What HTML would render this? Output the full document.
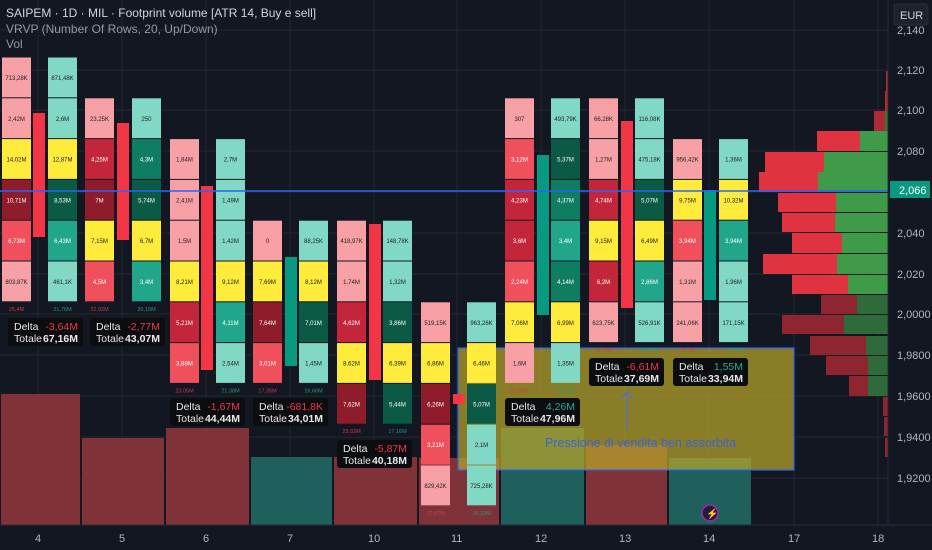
<!DOCTYPE html>
<html><head><meta charset="utf-8"><style>
body{margin:0;background:#131722;overflow:hidden}
svg{display:block;font-family:"Liberation Sans",sans-serif}
</style></head><body>
<svg id="s" width="932" height="550" viewBox="0 0 932 550" xmlns="http://www.w3.org/2000/svg">
<rect width="932" height="550" fill="#131722"/>
<g id="grid" stroke="#232733" stroke-width="1"></g>
<g id="vol"></g>
<g id="vp"></g>
<rect x="458" y="348" width="336" height="122" fill="#b8a52a" fill-opacity="0.72" stroke="#2962ff" stroke-width="1.2"/>
<g id="fp"></g>
<line x1="0" y1="191" x2="890" y2="191" stroke="#2962ff" stroke-width="1.5"/>
<line x1="627" y1="393" x2="627" y2="430" stroke="#4a6fd8" stroke-width="1.2"/>
<path d="M621,399 L627,392 L633,399" fill="none" stroke="#4a6fd8" stroke-width="1.2"/>
<text x="545" y="447" font-size="12.5" fill="#3d63d6">Pressione di vendita ben assorbita</text>
<circle cx="710" cy="513" r="8" fill="#2a1a3a" stroke="#9c27b0" stroke-width="1.5"/>
<text x="706" y="517" font-size="10" fill="#ce93d8">⚡</text>
<g id="db"></g>
<rect x="888" y="0" width="44" height="550" fill="#131722"/>
<line x1="888" y1="0" x2="888" y2="525" stroke="#2a2e39"/>
<line x1="0" y1="525" x2="932" y2="525" stroke="#2a2e39"/>
<g id="ax" font-size="11" fill="#b2b5be"></g>
<rect x="894" y="4" width="34" height="21" rx="3" fill="#1e222d" stroke="#2a2e39"/>
<text x="900" y="19" font-size="11" fill="#d1d4dc">EUR</text>
<rect x="890" y="181" width="40" height="17" fill="#089981"/>
<text x="899" y="194" font-size="11" fill="#fff">2,066</text>
<text x="6" y="17" font-size="12" fill="#d1d4dc">SAIPEM · 1D · MIL · Footprint volume [ATR 14, Buy e sell]</text>
<text x="6" y="33" font-size="12" fill="#9598a1">VRVP (Number Of Rows, 20, Up/Down)</text>
<text x="6" y="48" font-size="12" fill="#9598a1">Vol</text>
</svg>
<script>
const NS="http://www.w3.org/2000/svg";
function el(p,t,a,txt){const e=document.createElementNS(NS,t);for(const k in a)e.setAttribute(k,a[k]);if(txt!=null)e.textContent=txt;document.getElementById(p).appendChild(e);return e;}
// grid
const xs=[38,122,206,290,374,457,541,625,709,794,878];
xs.forEach(x=>el("grid","line",{x1:x,y1:0,x2:x,y2:525}));
const ys=[[30,"2,140"],[70,"2,120"],[110,"2,100"],[151,"2,080"],[192,"2,060"],[233,"2,040"],[274,"2,020"],[314,"2,0000"],[355,"1,9800"],[396,"1,9600"],[437,"1,9400"],[478,"1,9200"]];
ys.forEach(([y,t])=>{el("grid","line",{x1:0,y1:y,x2:888,y2:y});if(y>=60||true)el("ax","text",{x:897,y:y+4},t);});
["4","5","6","7","10","11","12","13","14","17","18"].forEach((t,i)=>el("ax","text",{x:xs[i]-(t.length>1?6:3),y:542},t));
// volume
[[0,81,394,"#7f3238"],[81,165,438,"#7f3238"],[165,250,428,"#7f3238"],[250,333,457,"#1f5f5c"],[333,418,457,"#7f3238"],[418,500,458,"#7f3238"],[500,585,428,"#1f5f5c"],[585,668,445,"#7f3238"],[668,752,458,"#1f5f5c"]].forEach(([a,b,y,c])=>el("vol","rect",{x:a+1,y:y,width:b-a-2,height:525-y,fill:c}));
// VRVP
[[131,20,817,860,"#e03340","#3f9a4a"],[152,20,765,824,"#e03340","#3f9a4a"],[172,20,759,818,"#e03340","#3f9a4a"],[193,19,778,836,"#e03340","#3f9a4a"],[213,19,782,835,"#e03340","#3f9a4a"],[233,20,792,842,"#e03340","#3f9a4a"],[254,20,763,837,"#e03340","#3f9a4a"],[275,19,792,848,"#e03340","#3f9a4a"],[295,19,821,857,"#8e2530","#2f6b3a"],[315,19,782,844,"#8e2530","#2f6b3a"],[336,19,810,866,"#8e2530","#2f6b3a"],[356,19,826,868,"#8e2530","#2f6b3a"],[376,20,849,868,"#8e2530","#2f6b3a"],[111,20,874,885,"#b02a35","#2f7a3a"],[91,20,885,888,"#b02a35","#2f7a3a"],[71,20,886,888,"#b02a35","#2f7a3a"],[397,19,883,888,"#8e2530","#2f6b3a"],[417,19,884,888,"#8e2530","#2f6b3a"],[438,19,885,888,"#8e2530","#2f6b3a"]].forEach(([y,h,a,b,c1,c2])=>{el("vp","rect",{x:a,y:y,width:b-a,height:h,fill:c1});el("vp","rect",{x:b,y:y,width:890-b,height:h,fill:c2});});
// footprint
const C={p:"#f7a1a6",t:"#80d8c5",y:"#ffeb3b",D:"#8e1c2b",R:"#f0505c",M:"#c3263a",G:"#0a5a46",T:"#22a68b",g:"#0e7d62"};
const dk={p:"#3a1010",t:"#0a3a30",y:"#333"};
const days=[
 [2,48,33,"#f23645",113,237,0,["p713,28K","p2,42M","y14,02M","D10,71M","R6,73M","p803,87K"],["t871,48K","t2,6M","y12,87M","G8,53M","T6,43M","t461,1K"],"25,4M","21,76M"],
 [85,132,117,"#f23645",123,240,1,["p23,25K","M4,25M","D7M","y7,15M","R4,5M"],["t250","g4,3M","G5,74M","y6,7M","T3,4M"],"22,92M","20,15M"],
 [170,216,201,"#f23645",186,370,2,["p1,84M","p2,41M","p1,5M","y8,21M","M5,21M","R3,88M"],["t2,7M","t1,49M","t1,42M","y9,12M","T4,11M","t2,54M"],"23,05M","21,38M"],
 [253,299,285,"#089981",257,366,4,["p0","y7,69M","D7,64M","R3,01M"],["t88,25K","y8,12M","G7,01M","t1,45M"],"17,35M","16,66M"],
 [337,383,369,"#f23645",224,380,4,["p418,97K","p1,74M","M4,62M","y8,62M","D7,62M"],["t148,78K","t1,32M","G3,86M","y6,39M","G5,44M"],"23,02M","17,16M"],
 [421,467,453,"#f23645",394,404,6,["p519,15K","y6,86M","D6,26M","R3,21M","p829,42K"],["t963,26K","y6,46M","G5,07M","t2,1M","t725,28K"],"17,87M","16,32M"],
 [505,551,537,"#089981",155,315,1,["p307","R3,12M","M4,23M","M3,6M","R2,24M","y7,06M","p1,6M"],["t493,79K","G5,37M","g4,37M","T3,4M","g4,14M","y6,99M","t1,35M"],"21,85M","26,11M"],
 [589,635,621,"#f23645",121,308,1,["p66,28K","p1,27M","M4,74M","y9,15M","M6,2M","p623,75K"],["t116,08K","t475,18K","G5,07M","y6,49M","T2,86M","t526,91K"],"22,15M","15,54M"],
 [673,719,704,"#089981",190,300,2,["p956,42K","y9,75M","R3,94M","p1,31M","p241,06K"],["t1,36M","y10,32M","T3,94M","t1,96M","t171,15K"],"16,2M","17,73M"]
];
const rowY=i=>57+i*40.8;
days.forEach(d=>{
 const [sx,bx,cx,cc,c1,c2,r0,S,B,ls,lb]=d;
 el("fp","rect",{x:cx,y:c1,width:12,height:c2-c1,fill:cc});
 [[sx,S,ls,"#d0394a"],[bx,B,lb,"#1f9c84"]].forEach(([x,arr,lab,lc])=>{
  arr.forEach((v,i)=>{const k=v[0],t=v.slice(1),y=rowY(r0+i);
   el("fp","rect",{x:x,y:y+0.5,width:29,height:39.8,fill:C[k]});
   el("fp","text",{x:x+14.5,y:y+23,"font-size":"6","text-anchor":"middle",fill:(k=="p"||k=="t"||k=="y")?"#222":"#fff"},t);});
  el("fp","text",{x:x+14.5,y:rowY(r0+arr.length)+9,"font-size":"5.5","text-anchor":"middle",fill:lc},lab);
 });
});
// delta boxes
[[8,318,"-3,64M","67,16M",0],[90,318,"-2,77M","43,07M",0],[170,398,"-1,67M","44,44M",0],[253,398,"-681,8K","34,01M",0],[337,440,"-5,87M","40,18M",0],[505,398,"4,26M","47,96M",1],[589,358,"-6,61M","37,69M",0],[673,358,"1,55M","33,94M",1]].forEach(([x,y,d,t,pos])=>{
 el("db","rect",{x:x,y:y,width:75,height:28,rx:3,fill:"#0c0d10"});
 el("db","text",{x:x+6,y:y+12,"font-size":"10.5",fill:"#e8e8e8"},"Delta");
 el("db","text",{x:x+6,y:y+24,"font-size":"10.5",fill:"#e8e8e8"},"Totale");
 el("db","text",{x:x+70,y:y+12,"font-size":"10.5","text-anchor":"end",fill:pos?"#22ab94":"#f23645"},d);
 el("db","text",{x:x+70,y:y+24,"font-size":"10.5","text-anchor":"end",fill:"#e8e8e8","font-weight":"bold"},t);
});
</script>
</body></html>
